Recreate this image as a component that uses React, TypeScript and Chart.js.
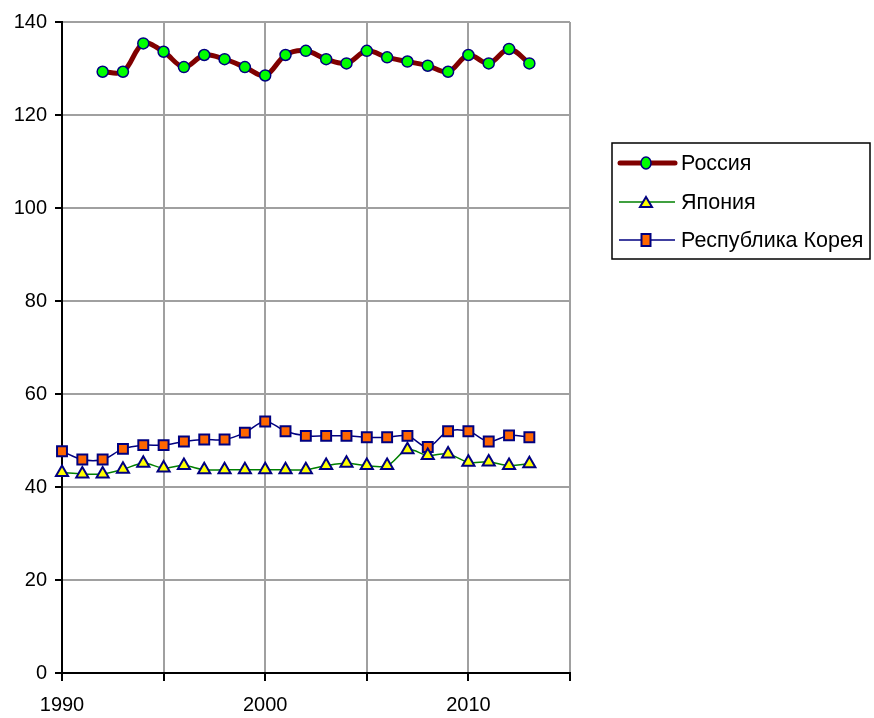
import React, { useEffect, useRef } from 'react';
import { Chart, registerables } from 'chart.js';

Chart.register(...registerables);

const years = [1990, 1991, 1992, 1993, 1994, 1995, 1996, 1997, 1998, 1999, 2000, 2001, 2002, 2003, 2004, 2005, 2006, 2007, 2008, 2009, 2010, 2011, 2012, 2013];
const russia = [null, null, 129.3, 129.3, 135.4, 133.6, 130.3, 132.9, 132.0, 130.3, 128.5, 132.9, 133.8, 132.0, 131.1, 133.8, 132.4, 131.5, 130.6, 129.3, 132.9, 131.1, 134.2, 131.1];
const japan = [43.1, 42.8, 42.8, 43.8, 45.1, 44.1, 44.6, 43.7, 43.7, 43.7, 43.7, 43.7, 43.7, 44.6, 45.1, 44.6, 44.6, 48.0, 46.8, 47.1, 45.3, 45.4, 44.6, 45.0];
const korea = [47.7, 45.9, 45.9, 48.2, 49.0, 49.0, 49.8, 50.2, 50.2, 51.7, 54.1, 52.0, 51.0, 51.0, 51.0, 50.7, 50.7, 51.0, 48.6, 52.0, 52.0, 49.8, 51.1, 50.7];
const seriesNames = ['Россия', 'Япония', 'Республика Корея'];
const xMin = 1990;
const xMax = 2015;
const yMin = 0;
const yMax = 140;

const toPoints = (vals: (number | null)[]) => years.map((y, i) => ({ x: y, y: vals[i] }));

const legendPlugin = {
  id: 'customLegend',
  afterDraw(chart: any) {
    const ctx = chart.ctx;
    ctx.save();
    const bx = 612, by = 143, bw = 258, bh = 116;
    ctx.lineWidth = 1.5;
    ctx.strokeStyle = '#000';
    ctx.strokeRect(bx, by, bw, bh);
    const rows = [163, 202, 240];
    chart.data.datasets.forEach((ds: any, i: number) => {
      const y = rows[i];
      ctx.beginPath();
      ctx.strokeStyle = ds.borderColor;
      ctx.lineWidth = ds.borderWidth;
      ctx.lineCap = i === 0 ? 'round' : 'butt';
      ctx.moveTo(i === 0 ? 620 : 619, y);
      ctx.lineTo(i === 0 ? 675 : 675, y);
      ctx.stroke();
      const cx = 646;
      ctx.fillStyle = ds.pointBackgroundColor;
      ctx.strokeStyle = ds.pointBorderColor;
      ctx.lineWidth = ds.pointBorderWidth;
      ctx.beginPath();
      if (ds.pointStyle === 'circle') {
        ctx.ellipse(cx, y, 5, 6, 0, 0, Math.PI * 2);
      } else if (ds.pointStyle === 'triangle') {
        ctx.moveTo(cx, y - 5);
        ctx.lineTo(cx + 6, y + 5);
        ctx.lineTo(cx - 6, y + 5);
        ctx.closePath();
      } else {
        ctx.rect(cx - 4.5, y - 6, 9, 12);
      }
      ctx.fill();
      ctx.stroke();
      ctx.fillStyle = '#000';
      ctx.font = '21.5px "Liberation Sans", Arial, sans-serif';
      ctx.textAlign = 'left';
      ctx.textBaseline = 'middle';
      ctx.fillText(ds.label, 681, y + 1);
    });
    ctx.restore();
  },
};

export default function App() {
  const ref = useRef<HTMLCanvasElement>(null);
  useEffect(() => {
    if (!ref.current) return;
    Chart.defaults.font.family = '"Liberation Sans", Arial, sans-serif';
    Chart.defaults.font.size = 20;
    Chart.defaults.color = '#000';
    const chart = new Chart(ref.current, {
      type: 'line',
      data: {
        datasets: [
          {
            label: seriesNames[0],
            data: toPoints(russia),
            borderColor: '#800000',
            borderWidth: 5,
            pointStyle: 'circle',
            pointRadius: 5.5,
            pointBackgroundColor: '#00ff00',
            pointBorderColor: '#000080',
            pointBorderWidth: 1.5,
            tension: 0.35,
            clip: false,
          },
          {
            label: seriesNames[1],
            data: toPoints(japan),
            borderColor: '#008000',
            borderWidth: 1.5,
            pointStyle: 'triangle',
            pointRadius: 7,
            pointBackgroundColor: '#ffff00',
            pointBorderColor: '#000080',
            pointBorderWidth: 2,
            tension: 0.35,
            clip: false,
          },
          {
            label: seriesNames[2],
            data: toPoints(korea),
            borderColor: '#000080',
            borderWidth: 1.5,
            pointStyle: 'rect',
            pointRadius: 7,
            pointBackgroundColor: '#ff6600',
            pointBorderColor: '#000080',
            pointBorderWidth: 2,
            tension: 0.35,
            clip: false,
          },
        ] as any,
      },
      options: {
        animation: false,
        responsive: false,
        devicePixelRatio: 1,
        layout: { padding: { top: 22, right: 304, left: 0, bottom: 0 } },
        plugins: { legend: { display: false }, tooltip: { enabled: false } },
        scales: {
          x: {
            type: 'linear',
            min: xMin,
            max: xMax,
            afterFit: (s: any) => { s.height = 45; },
            ticks: {
              stepSize: 5,
              autoSkip: false,
              maxRotation: 0,
              padding: 12,
              font: { size: 20 },
              callback: (v: any) => (Number(v) % 10 === 0 ? String(v) : ''),
            },
            grid: { color: '#a0a0a0', lineWidth: 2, tickColor: '#000', tickLength: 8, tickWidth: 2 },
            border: { color: '#000', width: 2 },
          },
          y: {
            min: yMin,
            max: yMax,
            afterFit: (s: any) => { s.width = 62; },
            ticks: { stepSize: 20, padding: 8, font: { size: 20 } },
            grid: { color: '#a0a0a0', lineWidth: 2, tickColor: '#000', tickLength: 7, tickWidth: 2 },
            border: { color: '#000', width: 2 },
          },
        },
      } as any,
      plugins: [legendPlugin],
    });
    return () => chart.destroy();
  }, []);
  return (
    <div style={{ position: 'absolute', left: 0, top: 0, width: 874, height: 718, background: '#fff' }}>
      <canvas ref={ref} width={874} height={718} />
    </div>
  );
}
